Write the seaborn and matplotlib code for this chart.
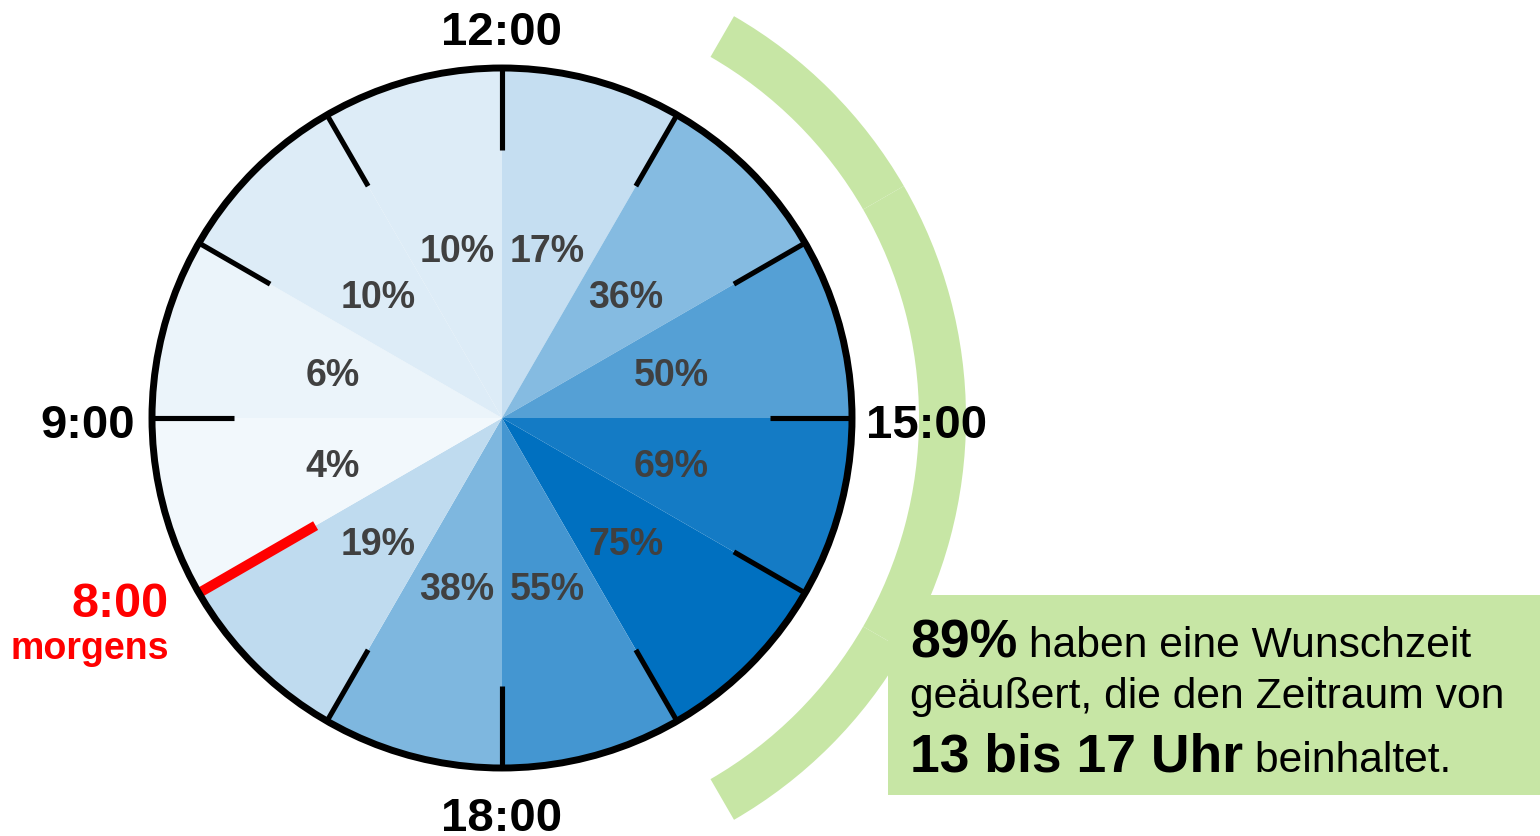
import numpy as np
import matplotlib
matplotlib.use("Agg")
import matplotlib.pyplot as plt
from matplotlib.patches import Wedge, Circle, Rectangle
import seaborn as sns

# Hourly slots, clockwise from the 12 o'clock position of the dial
slots = ["12–13", "13–14", "14–15", "15–16", "16–17", "17–18",
         "18–19", "19–20", "8–9", "9–10", "10–11", "11–12"]
shares = [17, 36, 50, 69, 75, 55, 38, 19, 4, 6, 10, 10]
share_labels = [f"{v}%" for v in shares]

# Captions around the dial (hour position on a 12-hour face)
dial_labels = ["12:00", "15:00", "18:00", "9:00"]
dial_positions = [0, 3, 6, 9]
start_label = "8:00"
start_sub = "morgens"
start_position = 8

# Highlighted window (hours of day)
window_start, window_end = 13, 17

summary_share = "89%"
summary_l1 = " haben eine Wunschzeit"
summary_l2 = "geäußert, die den Zeitraum von"
summary_window = "13 bis 17 Uhr"
summary_l3 = " beinhaltet."

sns.set_theme(style="white")
plt.rcParams["font.family"] = ["Liberation Sans", "DejaVu Sans"]

W, H = 1540, 836
fig = plt.figure(figsize=(W / 100, H / 100), dpi=100)
ax = fig.add_axes([0, 0, 1, 1])

cx, cy = 502, 418
R = 350
GREEN = "#c7e6a5"
LABEL_GREY = "#404040"


def pos_angle(p):
    """Dial position (0 = 12 o'clock, clockwise) -> degrees ccw from +x."""
    return 90 - 30 * p


def polar(r, p):
    a = np.deg2rad(pos_angle(p))
    return cx + r * np.cos(a), cy + r * np.sin(a)


# Shaded dial: one wedge per hour, colour by share
cmap = sns.blend_palette(["#ffffff", "#0070c0"], as_cmap=True)
colors = [cmap(v / max(shares)) for v in shares]
ax.pie(np.ones(len(shares)), radius=R, center=(cx, cy), startangle=90,
       counterclock=False, colors=colors,
       wedgeprops=dict(linewidth=0, antialiased=True))

# Highlight ring for the 13-17 window
for h in range(window_start, window_end):
    p = h - 12
    ax.add_patch(Wedge((cx, cy), 464, pos_angle(p + 1), pos_angle(p),
                       width=47, facecolor=GREEN, edgecolor="none", zorder=1))

# Hour ticks
for p in range(12):
    if p == start_position:
        continue
    x0, y0 = polar(R, p)
    x1, y1 = polar(0.765 * R, p)
    ax.plot([x0, x1], [y0, y1], color="black", lw=3.7,
            solid_capstyle="butt", zorder=3)

# Start marker
x0, y0 = polar(R, start_position)
x1, y1 = polar(0.615 * R, start_position)
ax.plot([x0, x1], [y0, y1], color="#ff0000", lw=7.2,
        solid_capstyle="butt", zorder=4)

# Dial outline
ax.add_patch(Circle((cx, cy), R, fill=False, edgecolor="black", lw=5.0, zorder=5))

# Share labels inside the wedges
pct_size = 27
pct_half_cap = 0.716 * pct_size * 100 / 72 / 2
for i, lab in enumerate(share_labels):
    x, y = polar(0.5 * R, i + 0.5)
    ax.text(x, y - pct_half_cap, lab, ha="center", va="baseline",
            fontsize=pct_size, fontweight="bold", color=LABEL_GREY, zorder=6)

# Dial captions
dial_size = 34
ax.text(cx, 791, dial_labels[0], ha="center", va="baseline",
        fontsize=dial_size, fontweight="bold", color="black", zorder=6)
ax.text(866, 398, dial_labels[1], ha="left", va="baseline",
        fontsize=dial_size, fontweight="bold", color="black", zorder=6)
ax.text(cx, 5, dial_labels[2], ha="center", va="baseline",
        fontsize=dial_size, fontweight="bold", color="black", zorder=6)
ax.text(135, 398, dial_labels[3], ha="right", va="baseline",
        fontsize=dial_size, fontweight="bold", color="black", zorder=6)
ax.text(169, 219, start_label, ha="right", va="baseline",
        fontsize=35, fontweight="bold", color="#ff0000", zorder=6)
ax.text(169, 177, start_sub, ha="right", va="baseline",
        fontsize=27, fontweight="bold", color="#ff0000", zorder=6)

# Summary box
ax.add_patch(Rectangle((888, H - 795), W - 888, 200, facecolor=GREEN,
                       edgecolor="none", zorder=2))

renderer = fig.canvas.get_renderer()
bold_size, reg_size = 38.5, 30.7
tx = 910


def run(x, y, s, **kw):
    t = ax.text(x, y, s, ha="left", va="baseline", color="black", zorder=6, **kw)
    return x + t.get_window_extent(renderer).width


nx = run(tx, H - 657, summary_share, fontsize=bold_size, fontweight="bold")
run(nx, H - 657, summary_l1, fontsize=reg_size)
run(tx, H - 708, summary_l2, fontsize=reg_size)
nx = run(tx, H - 772, summary_window, fontsize=bold_size, fontweight="bold")
run(nx, H - 772, summary_l3, fontsize=reg_size)

ax.set_xlim(0, W)
ax.set_ylim(0, H)
ax.set_aspect("equal")
ax.axis("off")

fig.savefig("out.png", dpi=100)
